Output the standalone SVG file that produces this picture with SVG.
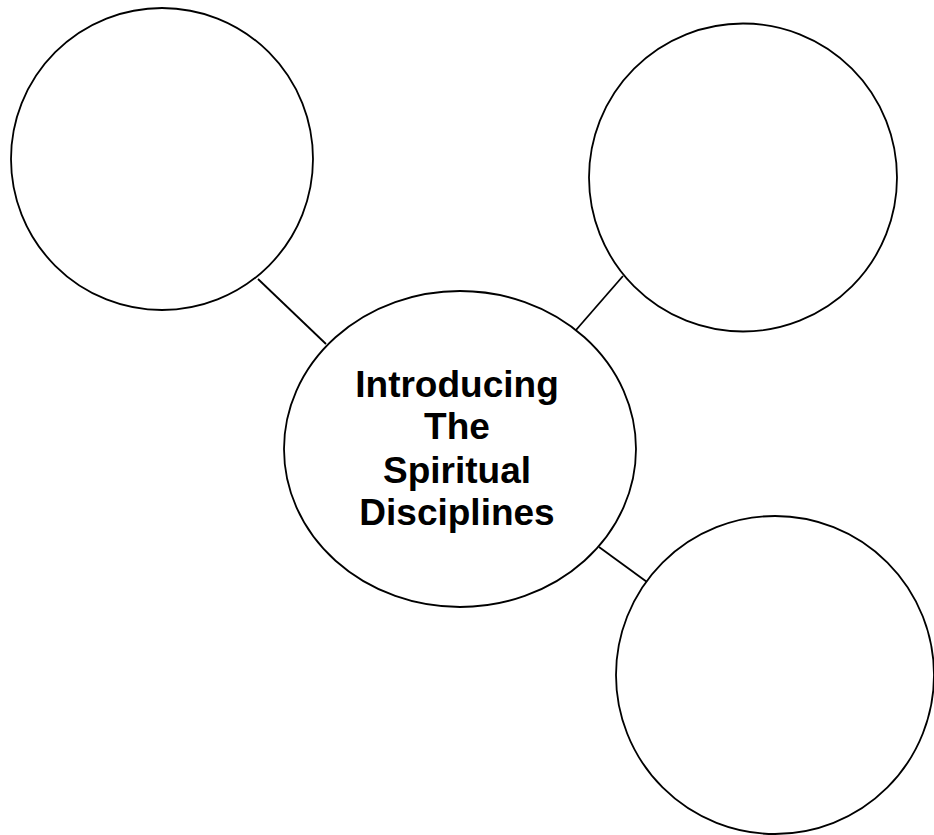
<svg xmlns="http://www.w3.org/2000/svg" width="934" height="835" viewBox="0 0 934 835">
<style>
.node{fill:#fff;stroke:#000;stroke-width:1.8}
.conn{stroke:#000;stroke-width:1.8;fill:none}
.lbl{font-family:"Liberation Sans",Arial,sans-serif;font-weight:bold;font-size:37px;fill:#000;text-anchor:middle}
</style>
<rect width="934" height="835" fill="#fff"/>
<g id="connectors">
<line class="conn" x1="258" y1="279" x2="326" y2="344"/>
<line class="conn" x1="623" y1="276" x2="576" y2="330"/>
<line class="conn" x1="599" y1="547" x2="647" y2="582"/>
</g>
<g id="node-top-left"><circle class="node" cx="162" cy="159" r="151"/></g>
<g id="node-top-right"><circle class="node" cx="743" cy="177.5" r="154"/></g>
<g id="node-bottom-right"><circle class="node" cx="775" cy="675" r="159"/></g>
<g id="node-center">
<ellipse class="node" cx="460" cy="449" rx="176" ry="158"/>
<text class="lbl" x="457" y="397">Introducing</text>
<text class="lbl" x="457" y="439">The</text>
<text class="lbl" x="457" y="483">Spiritual</text>
<text class="lbl" x="457" y="525">Disciplines</text>
</g>
</svg>
